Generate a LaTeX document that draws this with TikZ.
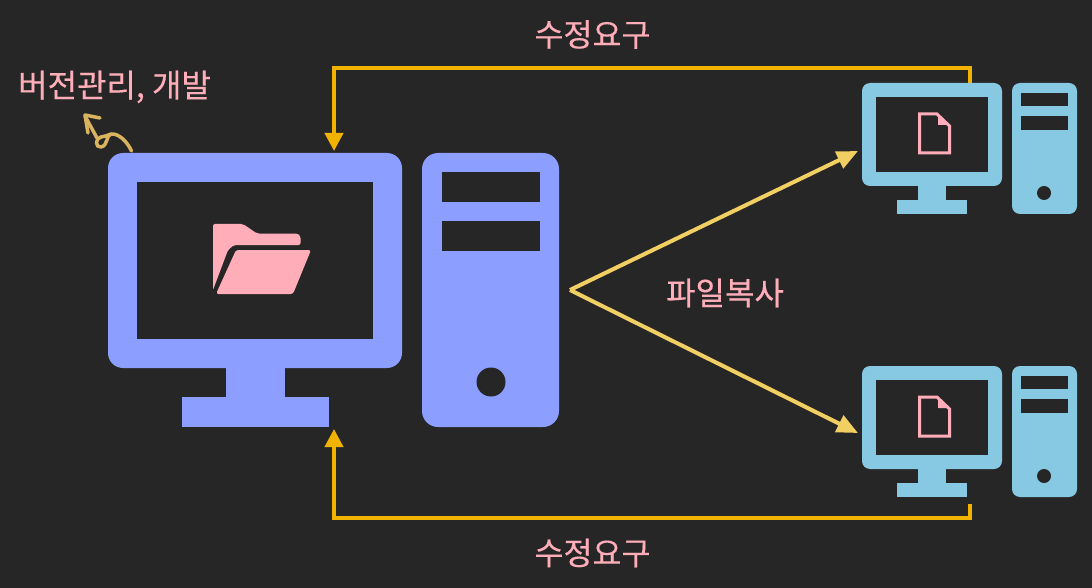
\documentclass[tikz,border=0pt]{standalone}
\usepackage{fontspec}
\setmainfont{Noto Sans CJK KR}
\newfontfamily\labelfont[FakeBold=0.35]{Noto Sans CJK KR}
\usetikzlibrary{arrows.meta}
\definecolor{bgc}{HTML}{262626}
\definecolor{bluec}{HTML}{8C9EFF}
\definecolor{cyanc}{HTML}{87C9E3}
\definecolor{pinkc}{HTML}{FFAEB9}
\definecolor{orangec}{HTML}{F2B200}
\definecolor{yellowc}{HTML}{F2CF63}
\definecolor{squig}{HTML}{D9B45F}
\tikzset{
  x=1pt,y=-1pt,
  label/.style={text=pinkc,font=\labelfont\fontsize{32}{34}\selectfont,inner sep=0pt},
  feedback/.style={draw=orangec,line width=4pt,-{Triangle[length=18pt,width=18pt]}},
  copyline/.style={draw=yellowc,line width=4pt,-{Triangle[length=21pt,width=18pt]}},
}
\newcommand{\rbox}[7]{% name, colour, radius, x0, y0, x1, y1
  \node[fill=#2,rounded corners=#3,inner sep=0pt,outer sep=0pt,minimum width={(#6)-(#4)},minimum height={(#7)-(#5)},anchor=north west] (#1) at (#4,#5) {};}
\begin{document}
\begin{tikzpicture}
\useasboundingbox (0,0) rectangle (1092,588);
\fill[bgc] (0,0) rectangle (1092,588);

% connector ends
\coordinate (hub) at (570,290);
\coordinate (topin) at (858,151);
\coordinate (botin) at (858,433);
\coordinate (bigtopin) at (334,151);
\coordinate (bigbotin) at (334,429);
\coordinate (topout) at (970,84);
\coordinate (botout) at (970,504);
\coordinate (topbend) at (970,68);
\coordinate (botbend) at (970,518);

\draw[feedback] (topout) -- (topbend) -- (bigtopin |- topbend) -- (bigtopin);
\draw[feedback] (botout) -- (botbend) -- (bigbotin |- botbend) -- (bigbotin);
\draw[copyline] (hub) -- (topin);
\draw[copyline] (hub) -- (botin);

% large computer
\fill[bluec] (182,397) rectangle (329,427);
\fill[bluec] (226,360) rectangle (285,398);
\rbox{bigmon}{bluec}{15pt}{108}{153}{402}{368}
\fill[bgc] (137,182) rectangle (373,339);
\rbox{bigtower}{bluec}{16pt}{422}{153}{559}{427}
\fill[bgc] (442,172) rectangle (540,202);
\fill[bgc] (442,221) rectangle (540,251);
\fill[bgc] (491,382) circle (14.5);

% folder
\fill[pinkc,rounded corners=2pt] (213,224) -- (243,224) -- (257,233.5) -- (298,233.5) -- (300.5,236) -- (300.5,245) -- (234,245) -- (228,250) -- (213,290) -- cycle;
\fill[pinkc,rounded corners=2.5pt] (236,250) -- (311,250) -- (293,294) -- (216,294) -- cycle;

% upper small computer
\fill[cyanc] (897,200) rectangle (967,214);
\fill[cyanc] (918,180) rectangle (946,201);
\rbox{topmon}{cyanc}{8pt}{862}{83}{1002}{186}
\fill[bgc] (876,97) rectangle (988,172);
\rbox{toptower}{cyanc}{8pt}{1012}{83}{1077}{214}
\fill[bgc] (1021,93) rectangle (1068,106);
\fill[bgc] (1021,116) rectangle (1068,130);
\fill[bgc] (1044,193) circle (7);

% upper document
\draw[pinkc,line width=3pt,line join=miter] (919.5,114) -- (937,114) -- (949.5,126) -- (949.5,153) -- (919.5,153) -- cycle;
\fill[pinkc] (938,116) -- (938,125) -- (948,125) -- cycle;

% lower small computer
\fill[cyanc] (897,483) rectangle (967,497);
\fill[cyanc] (918,463) rectangle (946,484);
\rbox{botmon}{cyanc}{8pt}{862}{366}{1002}{469}
\fill[bgc] (876,380) rectangle (988,455);
\rbox{bottower}{cyanc}{8pt}{1012}{366}{1077}{497}
\fill[bgc] (1021,376) rectangle (1068,389);
\fill[bgc] (1021,399) rectangle (1068,413);
\fill[bgc] (1044,476) circle (7);

% lower document
\draw[pinkc,line width=3pt,line join=miter] (919.5,397) -- (937,397) -- (949.5,409) -- (949.5,436) -- (919.5,436) -- cycle;
\fill[pinkc] (938,399) -- (938,408) -- (948,408) -- cycle;

% squiggle
\draw[squig,line width=3.5pt,line cap=round,line join=round]
  (131.5,151) .. controls (127,141) and (118,133) .. (111,134)
  .. controls (106,135) and (108,146) .. (101,147)
  .. controls (95,148) and (95,138) .. (101,137)
  .. controls (106,136) and (109,135) .. (111,134);
\draw[squig,line width=3.5pt,line cap=round,line join=round] (97,138) -- (85,116);
\draw[squig,line width=3.5pt,line cap=round,line join=round] (100,118) -- (85,115) -- (88,133);

% labels
\node[label,font=\labelfont\fontsize{31.5}{34}\selectfont] (t1) at (592.5,34.5) {수정요구};
\node[label,font=\labelfont\fontsize{31.5}{34}\selectfont] (t2) at (592.5,553) {수정요구};
\node[label] (t3) at (725,293) {파일복사};
\node[label,anchor=west] (t4) at (18,87) {버전관리, 개발};
\end{tikzpicture}
\end{document}
